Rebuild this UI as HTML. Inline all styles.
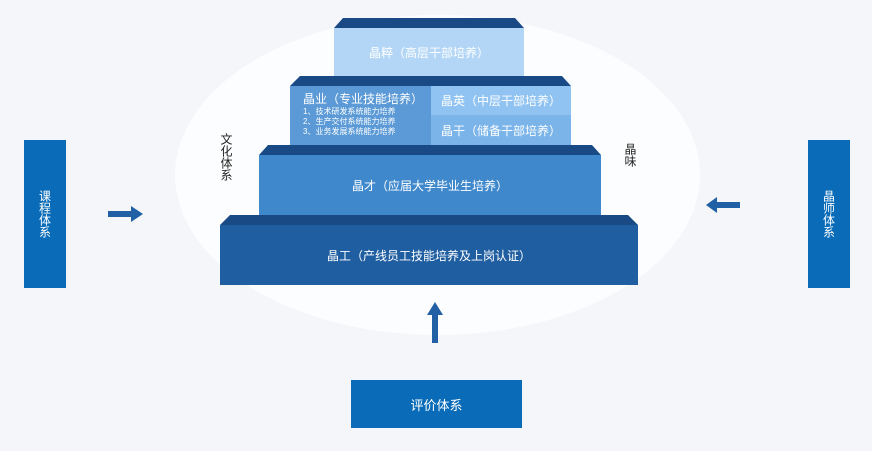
<!DOCTYPE html>
<html><head><meta charset="utf-8"><style>
html,body{margin:0;padding:0}
body{width:872px;height:451px;position:relative;overflow:hidden;background:#f4f6f9;font-family:"Liberation Sans","Noto Sans CJK SC",sans-serif}
.a{position:absolute}
.t{position:absolute;color:#fff;display:flex;align-items:center;justify-content:center}
.v{writing-mode:vertical-rl;letter-spacing:0px}
</style></head><body>
<div class="a" style="left:175px;top:15px;width:525px;height:320px;border-radius:50%;background:#fcfdfe"></div>
<svg class="a" style="left:0;top:0" width="872" height="451">
<polygon points="343,18 515,18 524,28 334,28" fill="#1a4a86"/>
<polygon points="300,76 562,76 571,86 290,86" fill="#1a4a86"/>
<polygon points="268,145 592,145 601,155 259,155" fill="#1a4a86"/>
<polygon points="230,215 628,215 638,225 220,225" fill="#1a4a86"/>
<rect x="334" y="28" width="190" height="48" fill="#b3d6f6"/>
<rect x="290" y="86" width="141" height="59" fill="#5b9ad6"/>
<rect x="431" y="86" width="140" height="29" fill="#90c3f1"/>
<rect x="431" y="115" width="140" height="30" fill="#7ab4e9"/>
<rect x="259" y="155" width="342" height="60" fill="#3f88cc"/>
<rect x="220" y="225" width="418" height="60" fill="#1f5ea0"/>
<polygon points="108,211 131,211 131,206 143,214 131,222 131,217 108,217" fill="#2160a4"/>
<polygon points="740,202 717,202 717,197 706,205 717,213 717,208 740,208" fill="#2160a4"/>
<polygon points="432,343 432,315 427,315 435,302 443,315 438,315 438,343" fill="#2160a4"/>
</svg>
<div class="t" style="left:334px;top:28px;width:190px;height:48px;font-size:12px">晶粹（高层干部培养）</div>
<div class="a" style="left:303px;top:90px;color:#fff;font-size:12px">晶业（专业技能培养）</div>
<div class="a" style="left:303px;top:107px;color:#fff;font-size:8px;line-height:10px">1、技术研发系统能力培养<br>2、生产交付系统能力培养<br>3、业务发展系统能力培养</div>
<div class="t" style="left:431px;top:86px;width:140px;height:29px;font-size:12px">晶英（中层干部培养）</div>
<div class="t" style="left:431px;top:115px;width:140px;height:30px;font-size:12px">晶干（储备干部培养）</div>
<div class="t" style="left:259px;top:155px;width:342px;height:60px;font-size:12px">晶才（应届大学毕业生培养）</div>
<div class="t" style="left:220px;top:225px;width:418px;height:60px;font-size:12px">晶工（产线员工技能培养及上岗认证）</div>
<div class="a v" style="left:219px;top:133px;font-size:12px;color:#222;line-height:14px">文化体系</div>
<div class="a v" style="left:623px;top:143px;font-size:12px;color:#222;line-height:14px">晶味</div>
<div class="t" style="left:24px;top:140px;width:42px;height:148px;background:#0a6cb8"><span class="v" style="font-size:12px">课程体系</span></div>
<div class="t" style="left:808px;top:140px;width:42px;height:148px;background:#0a6cb8"><span class="v" style="font-size:12px">晶师体系</span></div>
<div class="t" style="left:351px;top:380px;width:171px;height:48px;background:#0a6cb8;font-size:13px">评价体系</div>
</body></html>
